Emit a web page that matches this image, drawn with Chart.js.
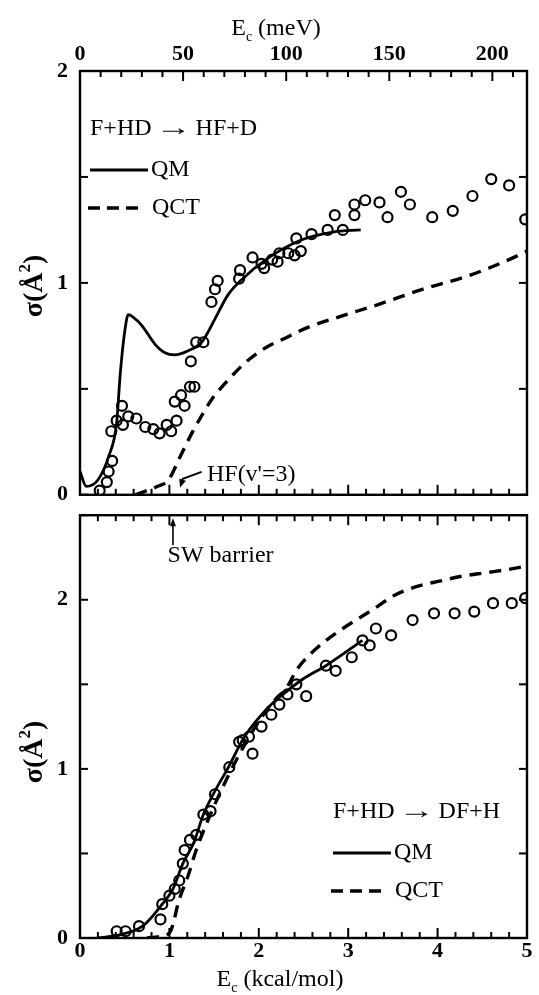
<!DOCTYPE html>
<html>
<head>
<meta charset="utf-8">
<title>F + HD cross sections</title>
<script src="https://cdn.jsdelivr.net/npm/chart.js@4.4.1/dist/chart.umd.min.js"></script>
<style>
  html, body { margin: 0; padding: 0; background: #fff; }
  #wrap { position: relative; width: 539px; height: 995px; overflow: hidden; }
  canvas { position: absolute; left: 0; }
  #hfChart { top: 0; }
  #dfChart { top: 490px; }
</style>
</head>
<body>
<div id="wrap">
  <canvas id="hfChart" width="539" height="520"></canvas>
  <canvas id="dfChart" width="539" height="505"></canvas>
</div>
<script>
// upper panel: F+HD -> HF+D   (E in kcal/mol, sigma in A^2)
const hfQmE = [0, 0.07, 0.2, 0.32, 0.41, 0.45, 0.5, 0.54, 0.59, 0.69, 0.84, 0.95, 1.06, 1.21, 1.36, 1.51, 1.65, 1.82, 2.08, 2.46, 2.83, 3.14];
const hfQmSigma = [0.11, 0.04, 0.07, 0.18, 0.34, 0.57, 0.77, 0.85, 0.84, 0.8, 0.71, 0.67, 0.66, 0.68, 0.72, 0.83, 0.94, 1.02, 1.11, 1.2, 1.24, 1.25];
const hfQctE = [0.62, 0.75, 0.87, 0.99, 1.12, 1.25, 1.37, 1.49, 1.61, 1.84, 2.06, 2.3, 2.55, 2.9, 3.35, 3.83, 4.32, 4.8, 5.0];
const hfQctSigma = [0.0, 0.02, 0.04, 0.07, 0.18, 0.29, 0.38, 0.46, 0.52, 0.62, 0.69, 0.74, 0.79, 0.84, 0.9, 0.97, 1.03, 1.11, 1.15];
const hfExpE = [0.22, 0.30, 0.32, 0.36, 0.35, 0.41, 0.47, 0.48, 0.54, 0.63, 0.73, 0.82, 0.89, 0.97, 1.02, 1.08, 1.06, 1.13, 1.17, 1.23,
  1.28, 1.24, 1.30, 1.38, 1.47, 1.51, 1.54, 1.78, 1.79, 1.93, 2.03, 2.06, 2.15, 2.21, 2.23, 2.33, 2.40, 2.42, 2.47, 2.59,
  2.77, 2.85, 2.94, 3.07, 3.07, 3.19, 3.35, 3.44, 3.59, 3.69, 3.94, 4.17, 4.39, 4.60, 4.80, 4.98];
const hfExpSigma = [0.02, 0.06, 0.11, 0.16, 0.30, 0.35, 0.42, 0.33, 0.37, 0.36, 0.32, 0.31, 0.29, 0.33, 0.30, 0.35, 0.44, 0.47, 0.42, 0.51,
  0.51, 0.63, 0.72, 0.72, 0.91, 0.97, 1.01, 1.02, 1.06, 1.12, 1.09, 1.07, 1.11, 1.10, 1.14, 1.14, 1.13, 1.21, 1.15, 1.23,
  1.25, 1.32, 1.25, 1.37, 1.32, 1.39, 1.38, 1.31, 1.43, 1.37, 1.31, 1.34, 1.41, 1.49, 1.46, 1.30];

// lower panel: F+HD -> DF+H
const dfQmE = [0.2, 0.45, 0.7, 0.92, 1.04, 1.15, 1.27, 1.38, 1.5, 1.65, 1.84, 2.1, 2.27, 2.49, 2.75, 3.16];
const dfQmSigma = [0, 0.02, 0.07, 0.2, 0.29, 0.44, 0.56, 0.73, 0.86, 1.0, 1.19, 1.36, 1.44, 1.53, 1.61, 1.76];
const dfQctE = [0.75, 0.9, 1.0, 1.04, 1.1, 1.21, 1.3, 1.45, 1.65, 1.85, 2.05, 2.2, 2.3, 2.43, 2.64, 2.94, 3.27, 3.53, 3.78, 4.02, 4.28, 4.54, 4.8, 5.0];
const dfQctSigma = [0, 0.01, 0.03, 0.08, 0.21, 0.37, 0.52, 0.72, 0.95, 1.15, 1.32, 1.42, 1.47, 1.59, 1.71, 1.83, 1.94, 2.03, 2.08, 2.11, 2.14, 2.16, 2.18, 2.2];
const dfExpE = [0.41, 0.51, 0.66, 0.90, 0.92, 1.00, 1.06, 1.11, 1.15, 1.17, 1.23, 1.30, 1.38, 1.46, 1.51, 1.67, 1.78, 1.93, 1.89, 1.82,
  2.03, 2.14, 2.23, 2.32, 2.42, 2.53, 2.75, 2.86, 3.04, 3.16, 3.24, 3.31, 3.48, 3.72, 3.96, 4.19, 4.41, 4.62, 4.83, 4.98];
const dfExpSigma = [0.04, 0.04, 0.07, 0.11, 0.20, 0.25, 0.29, 0.34, 0.44, 0.52, 0.58, 0.61, 0.73, 0.75, 0.85, 1.01, 1.16, 1.09, 1.19, 1.17,
  1.25, 1.32, 1.38, 1.44, 1.50, 1.43, 1.61, 1.58, 1.66, 1.76, 1.73, 1.83, 1.79, 1.88, 1.92, 1.92, 1.93, 1.98, 1.98, 2.01];

// axes
const kcalTicks = [0, 1, 2, 3, 4, 5];
const mevTicks = [0, 50, 100, 150, 200];
const hfSigmaTicks = [0, 1, 2];
const dfSigmaTicks = [0, 1, 2];
const MEV_PER_KCAL = 43.36;

const SERIF = "'Liberation Serif', 'Times New Roman', serif";
Chart.defaults.font.family = SERIF;
Chart.defaults.color = '#000';

function points(xs, ys) {
  return xs.map((x, i) => ({ x: x, y: ys[i] }));
}

function curve(label, xs, ys, dashed) {
  return {
    label: label,
    data: points(xs, ys),
    borderColor: '#000',
    borderWidth: dashed ? 3.4 : 2.8,
    borderDash: dashed ? [12, 8] : [],
    pointRadius: 0,
    fill: false,
    tension: 0.4,
    cubicInterpolationMode: 'monotone',
    clip: 0
  };
}

function circles(label, xs, ys) {
  return {
    label: label,
    data: points(xs, ys),
    showLine: false,
    pointStyle: 'circle',
    pointRadius: 5,
    borderWidth: 2.2,
    borderColor: '#000',
    backgroundColor: 'rgba(0,0,0,0)',
    clip: 0
  };
}

const hidden = { display: false, drawTicks: false };
const boldTicks = { size: 22, weight: 'bold' };

// frame + inward ticks, drawn through the chart's own scales
function drawFrame(chart, topUsesMev) {
  const ctx = chart.ctx, a = chart.chartArea;
  const xs = chart.scales.x, ys = chart.scales.y;
  const seg = (x1, y1, x2, y2) => { ctx.beginPath(); ctx.moveTo(x1, y1); ctx.lineTo(x2, y2); ctx.stroke(); };
  ctx.save();
  ctx.strokeStyle = '#000';
  ctx.lineWidth = 2;
  for (let i = 0; i <= 25; i++) {
    const px = xs.getPixelForValue(i * 0.2);
    const len = i % 5 === 0 ? 10 : 6;
    seg(px, a.bottom, px, a.bottom - len);
    if (!topUsesMev) seg(px, a.top, px, a.top + len);
  }
  if (topUsesMev) {
    const ms = chart.scales.mev;
    for (let m = 0; m <= ms.max; m += 10) {
      const px = ms.getPixelForValue(m);
      seg(px, a.top, px, a.top + (m % 50 === 0 ? 10 : 6));
    }
  }
  for (let v = 0; v <= ys.max + 1e-9; v += 0.5) {
    const py = ys.getPixelForValue(v);
    seg(a.left, py, a.left + 8, py);
    seg(a.right, py, a.right - 8, py);
  }
  ctx.lineWidth = 2.4;
  ctx.strokeRect(a.left, a.top, a.right - a.left, a.bottom - a.top);
  ctx.restore();
}

function subTitle(ctx, cx, baseY, main, sub, rest, size) {
  const big = size + 'px ' + SERIF, small = Math.round(size * 0.6) + 'px ' + SERIF;
  ctx.font = big;
  const w1 = ctx.measureText(main).width, w3 = ctx.measureText(rest).width;
  ctx.font = small;
  const w2 = ctx.measureText(sub).width;
  let x = cx - (w1 + w2 + w3) / 2;
  ctx.textAlign = 'left';
  ctx.textBaseline = 'alphabetic';
  ctx.font = big; ctx.fillText(main, x, baseY); x += w1;
  ctx.font = small; ctx.fillText(sub, x, baseY + size * 0.25); x += w2;
  ctx.font = big; ctx.fillText(rest, x, baseY);
}

function sigmaTitle(ctx, baseX, cy) {
  const size = 28;
  const big = 'bold ' + size + 'px ' + SERIF, small = 'bold ' + Math.round(size * 0.6) + 'px ' + SERIF;
  ctx.save();
  ctx.translate(baseX, cy);
  ctx.rotate(-Math.PI / 2);
  ctx.font = big;
  const w1 = ctx.measureText('\u03c3(\u00c5').width, w3 = ctx.measureText(')').width;
  ctx.font = small;
  const w2 = ctx.measureText('2').width;
  let x = -(w1 + w2 + w3) / 2;
  ctx.textAlign = 'left';
  ctx.textBaseline = 'alphabetic';
  ctx.font = big; ctx.fillText('\u03c3(\u00c5', x, 0); x += w1;
  ctx.font = small; ctx.fillText('2', x, -size * 0.42); x += w2;
  ctx.font = big; ctx.fillText(')', x, 0);
  ctx.restore();
}

function legendLine(ctx, x1, x2, y, dashed) {
  ctx.save();
  ctx.strokeStyle = '#000';
  ctx.lineWidth = dashed ? 3.4 : 2.8;
  ctx.setLineDash(dashed ? [12, 7] : []);
  ctx.beginPath(); ctx.moveTo(x1, y); ctx.lineTo(x2, y); ctx.stroke();
  ctx.restore();
}

function arrowHead(ctx, tx, ty, fx, fy, len, half) {
  const ang = Math.atan2(ty - fy, tx - fx);
  const bx = tx - len * Math.cos(ang), by = ty - len * Math.sin(ang);
  ctx.beginPath();
  ctx.moveTo(tx, ty);
  ctx.lineTo(bx + half * Math.sin(ang), by - half * Math.cos(ang));
  ctx.lineTo(bx - half * Math.sin(ang), by + half * Math.cos(ang));
  ctx.closePath();
  ctx.fill();
}

// reaction label with a stretched arrow glyph, as in the print
function reaction(ctx, left, y, lhs, rhs) {
  ctx.font = '24px ' + SERIF;
  ctx.textAlign = 'left';
  ctx.textBaseline = 'middle';
  ctx.fillText(lhs, left, y);
  let x = left + ctx.measureText(lhs).width + 4;
  const aw = ctx.measureText('\u2192').width;
  ctx.save();
  ctx.translate(x, y);
  ctx.scale(1.5, 1);
  ctx.fillText('\u2192', 0, 0);
  ctx.restore();
  x += aw * 1.5 + 4;
  ctx.fillText(rhs, x, y);
}

function legend(ctx, lhs, rhs, left, y0) {
  reaction(ctx, left, y0, lhs, rhs);
  ctx.font = '24px ' + SERIF;
  ctx.textAlign = 'left';
  ctx.textBaseline = 'middle';
  legendLine(ctx, left, left + 58, y0 + 41, false);
  ctx.fillText('QM', left + 61, y0 + 41);
  legendLine(ctx, left - 2, left + 55, y0 + 79, true);
  ctx.fillText('QCT', left + 62, y0 + 79);
}

const hfChart = new Chart(document.getElementById('hfChart'), {
  type: 'line',
  data: {
    datasets: [
      circles('Experiment', hfExpE, hfExpSigma),
      curve('QM', hfQmE, hfQmSigma, false),
      curve('QCT', hfQctE, hfQctSigma, true)
    ]
  },
  options: {
    responsive: false,
    animation: false,
    events: [],
    layout: { padding: { left: 0, right: 12, top: 0, bottom: 0 } },
    plugins: { legend: { display: false }, tooltip: { enabled: false } },
    scales: {
      x: {
        type: 'linear', position: 'bottom', min: 0, max: 5,
        grid: hidden, border: { display: false },
        ticks: { display: false },
        afterFit: s => { s.height = 17; }
      },
      mev: {
        type: 'linear', position: 'top', min: 0, max: 5 * MEV_PER_KCAL,
        grid: hidden, border: { display: false },
        ticks: { font: boldTicks, padding: 3, autoSkip: false, maxRotation: 0 },
        afterBuildTicks: s => { s.ticks = mevTicks.map(v => ({ value: v })); },
        afterFit: s => { s.height = 71; }
      },
      y: {
        type: 'linear', min: 0, max: 2,
        grid: hidden, border: { display: false },
        ticks: { font: boldTicks, padding: 12 },
        afterBuildTicks: s => { s.ticks = hfSigmaTicks.map(v => ({ value: v })); },
        afterFit: s => { s.width = 80; }
      }
    }
  },
  plugins: [{
    id: 'hfDecor',
    afterDatasetsDraw(chart) { drawFrame(chart, true); },
    afterDraw(chart) {
      const ctx = chart.ctx, xs = chart.scales.x, ys = chart.scales.y;
      ctx.save();
      ctx.fillStyle = '#000';
      ctx.strokeStyle = '#000';
      subTitle(ctx, 276, 35, 'E', 'c', ' (meV)', 24);
      sigmaTitle(ctx, 42, 286);
      legend(ctx, 'F+HD', 'HF+D', 90, 129);
      // HF(v'=3) threshold marker
      ctx.font = '24px ' + SERIF;
      ctx.textAlign = 'left';
      ctx.textBaseline = 'middle';
      ctx.fillText("HF(v'=3)", xs.getPixelForValue(1.42), ys.getPixelForValue(0.097));
      const p1x = xs.getPixelForValue(1.36), p1y = ys.getPixelForValue(0.108);
      const p2x = xs.getPixelForValue(1.15), p2y = ys.getPixelForValue(0.075);
      const p3x = xs.getPixelForValue(1.12), p3y = ys.getPixelForValue(0.035);
      ctx.lineWidth = 2;
      ctx.beginPath(); ctx.moveTo(p1x, p1y); ctx.lineTo(p2x, p2y); ctx.lineTo(p3x + 1, p3y - 5); ctx.stroke();
      arrowHead(ctx, p3x, p3y, p2x, p2y, 8, 3.5);
      ctx.restore();
    }
  }]
});

const dfChart = new Chart(document.getElementById('dfChart'), {
  type: 'line',
  data: {
    datasets: [
      circles('Experiment', dfExpE, dfExpSigma),
      curve('QM', dfQmE, dfQmSigma, false),
      curve('QCT', dfQctE, dfQctSigma, true)
    ]
  },
  options: {
    responsive: false,
    animation: false,
    events: [],
    layout: { padding: { left: 0, right: 12, top: 13, bottom: 0 } },
    plugins: { legend: { display: false }, tooltip: { enabled: false } },
    scales: {
      x: {
        type: 'linear', position: 'bottom', min: 0, max: 5,
        grid: hidden, border: { display: false },
        ticks: { font: boldTicks, padding: 0, autoSkip: false, maxRotation: 0 },
        afterBuildTicks: s => { s.ticks = kcalTicks.map(v => ({ value: v })); },
        afterFit: s => { s.height = 57; }
      },
      y: {
        type: 'linear', min: 0, max: 2.5,
        grid: hidden, border: { display: false },
        ticks: { font: boldTicks, padding: 12 },
        afterBuildTicks: s => { s.ticks = dfSigmaTicks.map(v => ({ value: v })); },
        afterFit: s => { s.width = 80; }
      }
    }
  },
  plugins: [{
    id: 'dfDecor',
    afterDatasetsDraw(chart) { drawFrame(chart, false); },
    afterDraw(chart) {
      const ctx = chart.ctx, xs = chart.scales.x, a = chart.chartArea;
      ctx.save();
      ctx.fillStyle = '#000';
      ctx.strokeStyle = '#000';
      subTitle(ctx, 280, 496, 'E', 'c', ' (kcal/mol)', 24);
      sigmaTitle(ctx, 42, 262);
      legend(ctx, 'F+HD', 'DF+H', 333, 322);
      // SW barrier marker
      const bx = xs.getPixelForValue(1.04);
      ctx.lineWidth = 1.6;
      ctx.beginPath(); ctx.moveTo(bx, a.top + 30); ctx.lineTo(bx, a.top + 8); ctx.stroke();
      arrowHead(ctx, bx, a.top + 3, bx, a.top + 30, 8, 3);
      ctx.font = '24px ' + SERIF;
      ctx.textAlign = 'left';
      ctx.textBaseline = 'alphabetic';
      ctx.fillText('SW barrier', xs.getPixelForValue(0.98), a.top + 47);
      ctx.restore();
    }
  }]
});
</script>
</body>
</html>
